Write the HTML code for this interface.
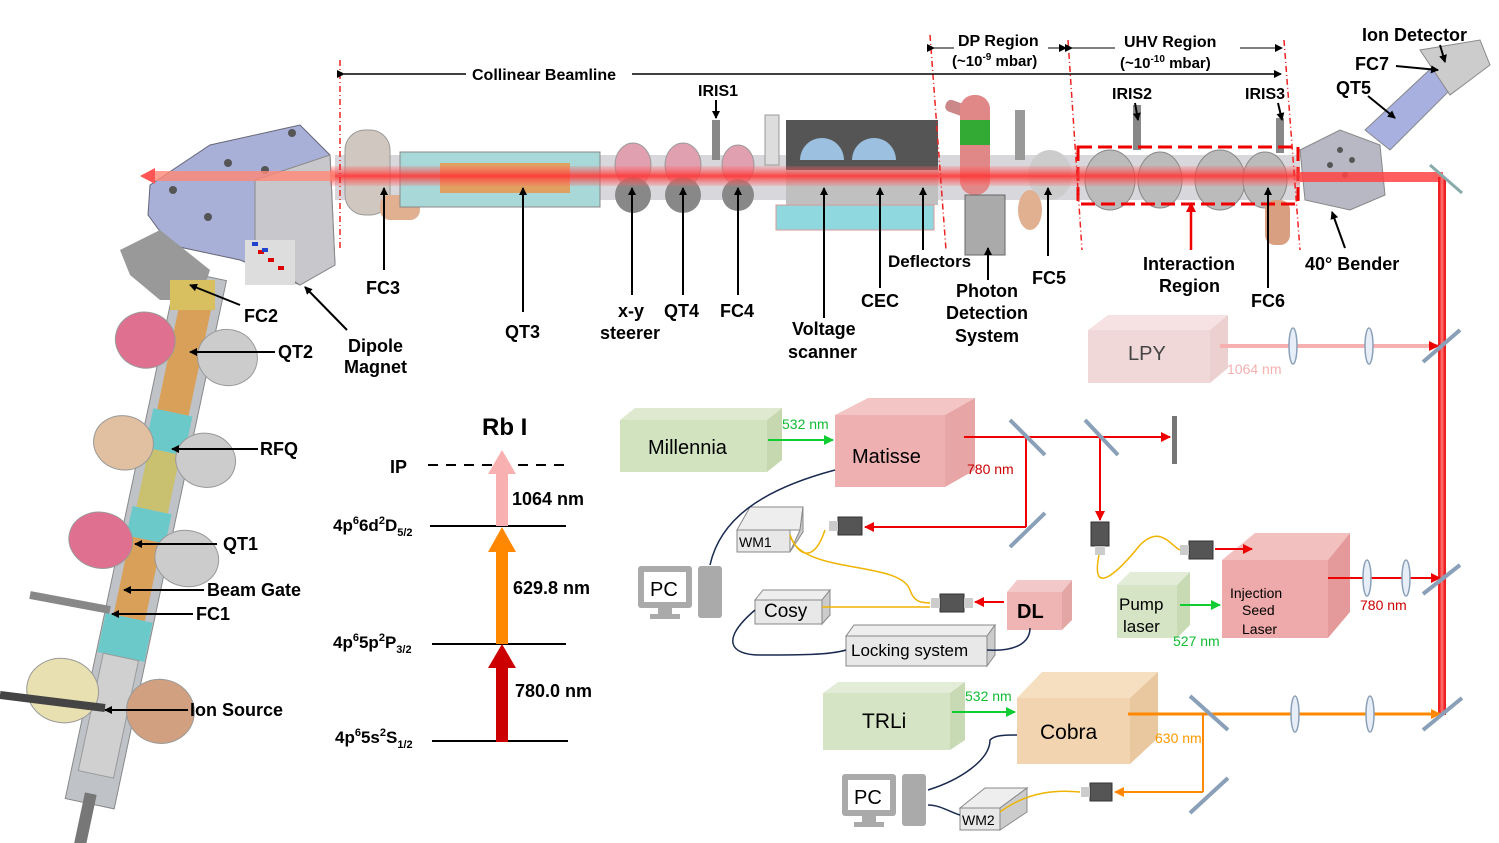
<!DOCTYPE html>
<html><head><meta charset="utf-8"><style>
html,body{margin:0;background:#fff;width:1499px;height:843px;overflow:hidden}
svg{display:block;font-family:"Liberation Sans",Arial,sans-serif}
.b{font-weight:bold;font-size:18px;fill:#000}
</style></head><body>
<svg width="1499" height="843" viewBox="0 0 1499 843" xmlns="http://www.w3.org/2000/svg">
<defs>
<marker id="ah" markerWidth="8" markerHeight="8" refX="7" refY="4" orient="auto" markerUnits="userSpaceOnUse"><path d="M0,0 L8,4 L0,8z" fill="#000"/></marker>
<marker id="ar" markerWidth="10" markerHeight="10" refX="9" refY="5" orient="auto" markerUnits="userSpaceOnUse"><path d="M0,0 L10,5 L0,10z" fill="#e00"/></marker>
<marker id="ao" markerWidth="10" markerHeight="10" refX="9" refY="5" orient="auto" markerUnits="userSpaceOnUse"><path d="M0,0 L10,5 L0,10z" fill="#f80"/></marker>
<marker id="ag" markerWidth="10" markerHeight="10" refX="9" refY="5" orient="auto" markerUnits="userSpaceOnUse"><path d="M0,0 L10,5 L0,10z" fill="#1c3"/></marker>
<linearGradient id="lz" x1="0" y1="0" x2="0" y2="1"><stop offset="0" stop-color="#f66" stop-opacity="0.2"/><stop offset="0.5" stop-color="#f33" stop-opacity="0.9"/><stop offset="1" stop-color="#f66" stop-opacity="0.2"/></linearGradient>
</defs>

<!-- left column -->
<g transform="rotate(12 150 520)">
 <rect x="125" y="270" width="50" height="540" fill="#bfc3c8" stroke="#888"/>
 <rect x="134" y="290" width="32" height="120" fill="#d9a05a"/>
 <rect x="130" y="410" width="40" height="40" fill="#6cc9c9"/>
 <rect x="134" y="450" width="32" height="60" fill="#c9c070"/>
 <rect x="130" y="510" width="40" height="30" fill="#6cc9c9"/>
 <rect x="134" y="540" width="32" height="80" fill="#d9a05a"/>
 <rect x="126" y="620" width="48" height="40" fill="#6cc9c9"/>
 <rect x="132" y="660" width="36" height="120" fill="#d0d0d0" stroke="#999"/>
 <rect x="143" y="800" width="12" height="60" fill="#777"/>
 <ellipse cx="108" cy="345" rx="30" ry="28" fill="#e07090" stroke="#999"/>
 <ellipse cx="192" cy="345" rx="30" ry="28" fill="#ccc" stroke="#999"/>
 <ellipse cx="108" cy="450" rx="30" ry="27" fill="#e0c0a0" stroke="#999"/>
 <ellipse cx="192" cy="450" rx="30" ry="27" fill="#ccc" stroke="#999"/>
 <ellipse cx="106" cy="550" rx="32" ry="28" fill="#e07090" stroke="#999"/>
 <ellipse cx="194" cy="550" rx="32" ry="28" fill="#ccc" stroke="#999"/>
 <ellipse cx="100" cy="705" rx="36" ry="32" fill="#e8e0b0" stroke="#999"/>
 <ellipse cx="200" cy="705" rx="34" ry="32" fill="#d0a080" stroke="#999"/>
</g>
<line x1="0" y1="695" x2="105" y2="708" stroke="#444" stroke-width="8"/>
<line x1="30" y1="595" x2="110" y2="610" stroke="#888" stroke-width="8"/>

<!-- dipole -->
<polygon points="150,185 210,145 300,125 330,155 335,265 300,285 240,260 170,245 148,215" fill="#a8b0d8" stroke="#667"/>
<polygon points="255,180 330,155 335,265 300,285 255,255" fill="#c8c8cc" stroke="#888"/>
<rect x="245" y="240" width="50" height="45" fill="#ddd"/>
<g fill="#d00"><rect x="258" y="250" width="6" height="4"/><rect x="268" y="258" width="6" height="4"/><rect x="278" y="266" width="6" height="4"/></g>
<g fill="#24c"><rect x="252" y="242" width="6" height="4"/><rect x="262" y="248" width="6" height="4"/></g>
<polygon points="120,250 160,230 210,270 200,300 160,300 130,275" fill="#999"/>
<rect x="170" y="280" width="45" height="30" fill="#d8c060"/>
<g fill="#555"><circle cx="173" cy="190" r="4"/><circle cx="208" cy="217" r="4"/><circle cx="228" cy="163" r="4"/><circle cx="265" cy="170" r="4"/><circle cx="292" cy="133" r="4"/></g>

<!-- beamline body -->
<rect x="335" y="155" width="965" height="45" fill="#d8d8dc"/>
<rect x="345" y="130" width="45" height="85" rx="20" fill="#d0c8c0" stroke="#999"/>
<rect x="380" y="195" width="40" height="25" rx="10" fill="#e0b090"/>
<rect x="400" y="152" width="200" height="55" fill="#a8d8d8" stroke="#888"/>
<rect x="440" y="163" width="130" height="30" fill="#e0a060"/>
<g fill="#e0a0b0" stroke="#999"><ellipse cx="633" cy="165" rx="18" ry="22"/><ellipse cx="683" cy="165" rx="18" ry="22"/><ellipse cx="738" cy="165" rx="16" ry="20"/></g>
<g fill="#888"><ellipse cx="633" cy="195" rx="18" ry="18"/><ellipse cx="683" cy="195" rx="18" ry="18"/><ellipse cx="738" cy="195" rx="16" ry="16"/></g>
<rect x="712" y="120" width="8" height="40" fill="#888"/>
<rect x="765" y="115" width="14" height="50" fill="#ddd" stroke="#999"/>
<rect x="786" y="120" width="152" height="50" fill="#555"/>
<path d="M800,160 a22,22 0 0 1 44,0z M852,160 a22,22 0 0 1 44,0z" fill="#9bc0e0"/>
<rect x="786" y="170" width="152" height="35" fill="#c0c0c0"/>
<rect x="776" y="205" width="158" height="25" fill="#90d8e0" stroke="#d99"/>
<rect x="945" y="105" width="40" height="12" rx="5" fill="#c88" transform="rotate(20 965 110)"/>
<rect x="960" y="95" width="30" height="100" rx="14" fill="#e08888"/>
<rect x="960" y="120" width="30" height="25" fill="#3a3"/>
<rect x="965" y="195" width="40" height="60" fill="#aaa" stroke="#666"/>
<rect x="1015" y="110" width="10" height="50" fill="#999"/>
<ellipse cx="1050" cy="175" rx="22" ry="25" fill="#ccc"/>
<ellipse cx="1030" cy="210" rx="12" ry="20" fill="#e0b090"/>
<g fill="#bbb" stroke="#888"><ellipse cx="1110" cy="180" rx="25" ry="30"/><ellipse cx="1160" cy="180" rx="22" ry="28"/><ellipse cx="1220" cy="180" rx="25" ry="30"/><ellipse cx="1265" cy="180" rx="22" ry="28"/></g>
<rect x="1133" y="105" width="8" height="45" fill="#888"/>
<rect x="1276" y="118" width="8" height="35" fill="#888"/>
<rect x="1265" y="200" width="25" height="45" rx="10" fill="#d8a080"/>
<rect x="1078" y="147" width="220" height="57" fill="none" stroke="#e00" stroke-width="3" stroke-dasharray="14,6"/>
<polygon points="1300,150 1340,130 1380,145 1385,195 1350,210 1305,200" fill="#b8b8c4" stroke="#888"/>
<g fill="#555"><circle cx="1340" cy="150" r="3"/><circle cx="1352" cy="160" r="3"/><circle cx="1330" cy="165" r="3"/><circle cx="1345" cy="175" r="3"/></g>
<polygon points="1365,130 1440,60 1460,80 1390,150" fill="#a8b0e0" stroke="#888"/>
<polygon points="1420,50 1480,40 1490,65 1450,95" fill="#ccc" stroke="#888"/>
<rect x="330" y="166" width="970" height="20" fill="url(#lz)"/>
<path d="M140,176 L155,168 L155,184z" fill="#f55"/>
<rect x="155" y="171" width="180" height="10" fill="#f87" opacity="0.8"/>
<line x1="1300" y1="177" x2="1443" y2="177" stroke="#f44" stroke-width="10" opacity="0.85"/>
<line x1="1442" y1="177" x2="1442" y2="715" stroke="#e22" stroke-width="8"/>
<line x1="1442" y1="177" x2="1442" y2="715" stroke="#f66" stroke-width="3"/>
<line x1="1430" y1="165" x2="1462" y2="193" stroke="#8aa" stroke-width="3"/>

<g stroke="#e22" stroke-width="1.5" stroke-dasharray="6,3,1,3" fill="none">
<line x1="340" y1="60" x2="340" y2="250"/><line x1="930" y1="35" x2="946" y2="250"/><line x1="1068" y1="40" x2="1082" y2="250"/><line x1="1284" y1="40" x2="1300" y2="250"/>
</g>
<line x1="344" y1="74" x2="466" y2="74" stroke="#000" stroke-width="1.5" marker-start="url(#ah)"/>
<line x1="632" y1="74" x2="1281" y2="74" stroke="#000" stroke-width="1.5" marker-end="url(#ah)"/>
<text x="472" y="80" class="b" style="font-size:16px">Collinear Beamline</text>
<line x1="934" y1="48" x2="954" y2="48" stroke="#000" marker-start="url(#ah)"/>
<line x1="1048" y1="48" x2="1066" y2="48" stroke="#000" marker-end="url(#ah)"/>
<text x="958" y="46" class="b" style="font-size:16px">DP Region</text>
<text x="952" y="66" class="b" style="font-size:15px">(~10<tspan dy="-6" font-size="10">-9</tspan><tspan dy="6"> mbar)</tspan></text>
<line x1="1072" y1="48" x2="1115" y2="48" stroke="#000" marker-start="url(#ah)"/>
<line x1="1240" y1="48" x2="1282" y2="48" stroke="#000" marker-end="url(#ah)"/>
<text x="1124" y="47" class="b" style="font-size:16px">UHV Region</text>
<text x="1120" y="68" class="b" style="font-size:15px">(~10<tspan dy="-6" font-size="10">-10</tspan><tspan dy="6"> mbar)</tspan></text>
<text x="1362" y="41" class="b">Ion Detector</text>
<text x="1355" y="70" class="b">FC7</text>
<text x="1336" y="94" class="b">QT5</text>
<text x="698" y="96" class="b" style="font-size:16px">IRIS1</text>
<text x="1112" y="99" class="b" style="font-size:16px">IRIS2</text>
<text x="1245" y="99" class="b" style="font-size:16px">IRIS3</text>
<g stroke="#000" stroke-width="2" fill="none" marker-end="url(#ah)">
<line x1="1440" y1="45" x2="1445" y2="62"/>
<line x1="1396" y1="66" x2="1438" y2="70"/>
<line x1="1368" y1="96" x2="1395" y2="118"/>
<line x1="716" y1="100" x2="716" y2="118"/>
<line x1="1135" y1="103" x2="1138" y2="120"/>
<line x1="1278" y1="103" x2="1282" y2="120"/>
<line x1="384" y1="270" x2="384" y2="188"/>
<line x1="523" y1="312" x2="523" y2="188"/>
<line x1="632" y1="295" x2="632" y2="188"/>
<line x1="683" y1="295" x2="683" y2="188"/>
<line x1="738" y1="295" x2="738" y2="188"/>
<line x1="824" y1="318" x2="824" y2="188"/>
<line x1="880" y1="288" x2="880" y2="188"/>
<line x1="923" y1="250" x2="923" y2="188"/>
<line x1="988" y1="280" x2="988" y2="248"/>
<line x1="1048" y1="256" x2="1048" y2="188"/>
<line x1="1268" y1="288" x2="1268" y2="188"/>
<line x1="1345" y1="248" x2="1332" y2="212"/>
<line x1="347" y1="330" x2="305" y2="287"/>
<line x1="240" y1="305" x2="190" y2="285"/>
<line x1="275" y1="352" x2="190" y2="352"/>
<line x1="258" y1="449" x2="172" y2="449"/>
<line x1="217" y1="544" x2="135" y2="544"/>
<line x1="204" y1="590" x2="124" y2="590"/>
<line x1="193" y1="614" x2="112" y2="614"/>
<line x1="188" y1="710" x2="105" y2="710"/>
</g>
<line x1="1191" y1="250" x2="1191" y2="203" stroke="#e00" stroke-width="2.5" marker-end="url(#ar)"/>
<g class="b">
<text x="366" y="294">FC3</text>
<text x="505" y="338">QT3</text>
<text x="618" y="317">x-y</text><text x="600" y="339">steerer</text>
<text x="664" y="317">QT4</text>
<text x="720" y="317">FC4</text>
<text x="792" y="335">Voltage</text><text x="788" y="358">scanner</text>
<text x="861" y="307">CEC</text>
<text x="888" y="267" style="font-size:17px">Deflectors</text>
<text x="956" y="297">Photon</text><text x="946" y="319">Detection</text><text x="955" y="342">System</text>
<text x="1032" y="284">FC5</text>
<text x="1143" y="270">Interaction</text><text x="1159" y="292">Region</text>
<text x="1251" y="307">FC6</text>
<text x="1305" y="270">40° Bender</text>
<text x="348" y="352">Dipole</text><text x="344" y="373">Magnet</text>
<text x="244" y="322">FC2</text>
<text x="278" y="358">QT2</text>
<text x="260" y="455">RFQ</text>
<text x="223" y="550">QT1</text>
<text x="207" y="596">Beam Gate</text>
<text x="196" y="620">FC1</text>
<text x="190" y="716">Ion Source</text>
</g>

<text x="482" y="435" class="b" style="font-size:24px">Rb I</text>
<text x="390" y="473" class="b">IP</text>
<line x1="428" y1="465" x2="565" y2="465" stroke="#000" stroke-width="2" stroke-dasharray="10,8"/>
<line x1="430" y1="526" x2="566" y2="526" stroke="#000" stroke-width="2"/>
<line x1="432" y1="644" x2="566" y2="644" stroke="#000" stroke-width="2"/>
<line x1="432" y1="741" x2="568" y2="741" stroke="#000" stroke-width="2"/>
<text x="333" y="531" class="b" style="font-size:17px">4p<tspan dy="-7" font-size="11">6</tspan><tspan dy="7">6d</tspan><tspan dy="-7" font-size="11">2</tspan><tspan dy="7">D</tspan><tspan dy="5" font-size="11">5/2</tspan></text>
<text x="333" y="648" class="b" style="font-size:17px">4p<tspan dy="-7" font-size="11">6</tspan><tspan dy="7">5p</tspan><tspan dy="-7" font-size="11">2</tspan><tspan dy="7">P</tspan><tspan dy="5" font-size="11">3/2</tspan></text>
<text x="335" y="743" class="b" style="font-size:17px">4p<tspan dy="-7" font-size="11">6</tspan><tspan dy="7">5s</tspan><tspan dy="-7" font-size="11">2</tspan><tspan dy="7">S</tspan><tspan dy="5" font-size="11">1/2</tspan></text>
<rect x="496" y="666" width="12" height="76" fill="#c00"/><path d="M488,668 L502,644 L516,668z" fill="#c00"/>
<rect x="496" y="550" width="12" height="94" fill="#f80"/><path d="M488,552 L502,527 L516,552z" fill="#f80"/>
<rect x="496" y="472" width="12" height="54" fill="#f9b0b0"/><path d="M488,474 L502,450 L516,474z" fill="#f9b0b0"/>
<text x="512" y="505" class="b">1064 nm</text>
<text x="513" y="594" class="b">629.8 nm</text>
<text x="515" y="697" class="b">780.0 nm</text>

<g>
<polygon points="620,420 635,408 782,408 767,420" fill="#dfe9cf"/><polygon points="767,420 782,408 782,460 767,472" fill="#c5d8b0"/>
<rect x="620" y="420" width="147" height="52" fill="#d2e3c0"/>
<text x="648" y="454" style="font-size:20px">Millennia</text>
<polygon points="835,415 868,398 975,398 945,415" fill="#f3c5c5"/><polygon points="945,415 975,398 975,470 945,487" fill="#e8a5a5"/>
<rect x="835" y="415" width="110" height="72" fill="#eeb0b0"/>
<text x="852" y="463" style="font-size:20px">Matisse</text>
<polygon points="1088,330 1108,315 1228,315 1210,330" fill="#f6e2e2"/><polygon points="1210,330 1228,315 1228,368 1210,383" fill="#ecd0d0"/>
<rect x="1088" y="330" width="122" height="53" fill="#f1d8d8"/>
<text x="1128" y="360" style="font-size:20px;fill:#444">LPY</text>
<polygon points="1222,560 1255,533 1350,533 1328,560" fill="#f3c0c0"/><polygon points="1328,560 1350,533 1350,612 1328,638" fill="#e49a9a"/>
<rect x="1222" y="560" width="106" height="78" fill="#eeaaaa"/>
<text x="1230" y="598" style="font-size:14px">Injection</text><text x="1242" y="615" style="font-size:14px">Seed</text><text x="1242" y="634" style="font-size:14px">Laser</text>
<polygon points="1117,585 1130,572 1190,572 1177,585" fill="#e2ecd6"/><polygon points="1177,585 1190,572 1190,625 1177,638" fill="#c8dab4"/>
<rect x="1117" y="585" width="60" height="53" fill="#d5e4c5"/>
<text x="1119" y="610" style="font-size:17px">Pump</text><text x="1123" y="632" style="font-size:17px">laser</text>
<polygon points="1007,592 1017,580 1072,580 1062,592" fill="#f3c8c8"/><polygon points="1062,592 1072,580 1072,620 1062,630" fill="#e4a5a5"/>
<rect x="1007" y="592" width="55" height="38" fill="#efb5b5"/>
<text x="1017" y="618" class="b" style="font-size:20px">DL</text>
<polygon points="823,693 838,682 965,682 950,693" fill="#e2ecd6"/><polygon points="950,693 965,682 965,740 950,750" fill="#c8dab4"/>
<rect x="823" y="693" width="127" height="57" fill="#d5e4c5"/>
<text x="862" y="728" style="font-size:21px">TRLi</text>
<polygon points="1017,698 1042,672 1158,672 1130,698" fill="#f6dfc0"/><polygon points="1130,698 1158,672 1158,738 1130,764" fill="#e9c8a0"/>
<rect x="1017" y="698" width="113" height="66" fill="#f2d5b0"/>
<text x="1040" y="739" style="font-size:21px">Cobra</text>
<polygon points="737,530 750,507 803,507 800,530" fill="#eee" stroke="#888"/><polygon points="800,530 803,507 803,532 790,552" fill="#ccc" stroke="#888"/>
<rect x="737" y="530" width="53" height="22" fill="#e8e8e8" stroke="#888"/><text x="739" y="547" style="font-size:14px">WM1</text>
<polygon points="755,600 763,590 830,590 822,600" fill="#eee" stroke="#888"/><polygon points="822,600 830,590 830,615 822,624" fill="#ccc" stroke="#888"/>
<rect x="755" y="600" width="67" height="24" fill="#e8e8e8" stroke="#888"/><text x="764" y="617" style="font-size:19px">Cosy</text>
<polygon points="846,636 854,625 995,625 987,636" fill="#eee" stroke="#888"/><polygon points="987,636 995,625 995,655 987,666" fill="#ccc" stroke="#888"/>
<rect x="846" y="636" width="141" height="30" fill="#e8e8e8" stroke="#888"/><text x="851" y="656" style="font-size:17px">Locking system</text>
<polygon points="960,808 985,788 1027,788 1000,808" fill="#eee" stroke="#888"/><polygon points="1000,808 1027,788 1027,812 1000,830" fill="#ccc" stroke="#888"/>
<rect x="960" y="808" width="40" height="22" fill="#e8e8e8" stroke="#888"/><text x="962" y="825" style="font-size:14px">WM2</text>
<g fill="#aaa"><rect x="638" y="566" width="54" height="42" rx="3"/><rect x="658" y="608" width="14" height="8"/><rect x="650" y="614" width="30" height="5"/><rect x="698" y="566" width="24" height="52" rx="3"/></g>
<rect x="644" y="572" width="42" height="30" fill="#fff"/><text x="650" y="596" style="font-size:20px">PC</text>
<g fill="#aaa"><rect x="842" y="774" width="54" height="42" rx="3"/><rect x="862" y="816" width="14" height="8"/><rect x="854" y="822" width="30" height="5"/><rect x="902" y="774" width="24" height="52" rx="3"/></g>
<rect x="848" y="780" width="42" height="30" fill="#fff"/><text x="854" y="804" style="font-size:20px">PC</text>
<g fill="#555" stroke="#333"><rect x="838" y="517" width="24" height="18"/><rect x="1091" y="522" width="18" height="24"/><rect x="1189" y="541" width="24" height="18"/><rect x="940" y="594" width="24" height="18"/><rect x="1090" y="783" width="22" height="18"/></g>
<g fill="#ccc"><rect x="829" y="521" width="9" height="10"/><rect x="1095" y="546" width="10" height="9"/><rect x="1180" y="545" width="9" height="10"/><rect x="931" y="598" width="9" height="10"/><rect x="964" y="598" width="9" height="10"/><rect x="1081" y="787" width="9" height="10"/></g>
</g>

<g fill="none" stroke-width="2">
<line x1="768" y1="440" x2="833" y2="440" stroke="#1c3" marker-end="url(#ag)"/>
<line x1="1180" y1="605" x2="1220" y2="605" stroke="#1c3" marker-end="url(#ag)"/>
<line x1="952" y1="712" x2="1015" y2="712" stroke="#1c3" marker-end="url(#ag)"/>
<polyline points="964,437 1170,437" stroke="#e00" marker-end="url(#ar)"/>
<line x1="1026" y1="437" x2="1026" y2="527" stroke="#e00"/>
<line x1="1026" y1="527" x2="865" y2="527" stroke="#e00" marker-end="url(#ar)"/>
<line x1="1100" y1="437" x2="1100" y2="520" stroke="#e00" marker-end="url(#ar)"/>
<line x1="1215" y1="549" x2="1252" y2="549" stroke="#e00" marker-end="url(#ar)"/>
<line x1="1004" y1="602" x2="975" y2="602" stroke="#e00" marker-end="url(#ar)"/>
<line x1="1328" y1="578" x2="1440" y2="578" stroke="#e00" marker-end="url(#ar)"/>
<line x1="1220" y1="346" x2="1438" y2="346" stroke="#f7b0b0" stroke-width="4" marker-end="url(#ar)"/>
<line x1="1128" y1="714" x2="1440" y2="714" stroke="#f80" stroke-width="3" marker-end="url(#ao)"/>
<line x1="1203" y1="714" x2="1203" y2="792" stroke="#f80"/>
<line x1="1203" y1="792" x2="1115" y2="792" stroke="#f80" marker-end="url(#ao)"/>
</g>
<rect x="1172" y="416" width="5" height="48" fill="#777"/>
<g stroke="#8aa0b8" stroke-width="4" fill="none">
<line x1="1010" y1="420" x2="1045" y2="455"/><line x1="1085" y1="420" x2="1118" y2="455"/>
<line x1="1010" y1="547" x2="1045" y2="513"/>
<line x1="1423" y1="362" x2="1460" y2="330"/><line x1="1423" y1="594" x2="1460" y2="565"/><line x1="1423" y1="730" x2="1462" y2="698"/>
<line x1="1190" y1="696" x2="1228" y2="730"/><line x1="1190" y1="813" x2="1228" y2="778"/>
</g>
<g fill="#e8eef8" stroke="#8aa0b8" stroke-width="1.5">
<ellipse cx="1293" cy="346" rx="4" ry="18"/><ellipse cx="1369" cy="346" rx="4" ry="18"/>
<ellipse cx="1367" cy="578" rx="4" ry="18"/><ellipse cx="1406" cy="578" rx="4" ry="18"/>
<ellipse cx="1295" cy="714" rx="4" ry="18"/><ellipse cx="1370" cy="714" rx="4" ry="18"/>
</g>
<g fill="none" stroke-width="1.5">
<path d="M790,535 C800,560 815,560 825,530" stroke="#f0b400"/>
<path d="M790,535 C800,575 900,560 910,590 C915,605 925,602 930,603" stroke="#f0b400"/>
<path d="M822,607 L930,607" stroke="#f0b400"/>
<path d="M1099,555 C1090,600 1120,570 1140,545 C1160,525 1170,545 1180,550" stroke="#f0b400"/>
<path d="M1000,812 C1030,790 1060,790 1080,792" stroke="#f0b400"/>
<path d="M710,565 C720,520 760,490 835,470" stroke="#1a2a50"/>
<path d="M755,610 C720,640 730,655 760,655 C800,655 830,655 846,650" stroke="#1a2a50"/>
<path d="M987,650 C1020,652 1030,640 1030,628" stroke="#1a2a50"/>
<path d="M928,790 C960,780 990,760 990,740 C995,735 1005,735 1017,735" stroke="#1a2a50"/>
<path d="M928,805 C940,805 950,812 960,815" stroke="#1a2a50"/>
</g>
<g style="font-size:14px">
<text x="782" y="429" fill="#1b3">532 nm</text>
<text x="967" y="474" fill="#c00">780 nm</text>
<text x="1227" y="374" fill="#f7b0b0">1064 nm</text>
<text x="1360" y="610" fill="#c00">780 nm</text>
<text x="1173" y="646" fill="#1b3">527 nm</text>
<text x="965" y="701" fill="#1b3">532 nm</text>
<text x="1155" y="743" fill="#f90">630 nm</text>
</g>
</svg>
</body></html>
